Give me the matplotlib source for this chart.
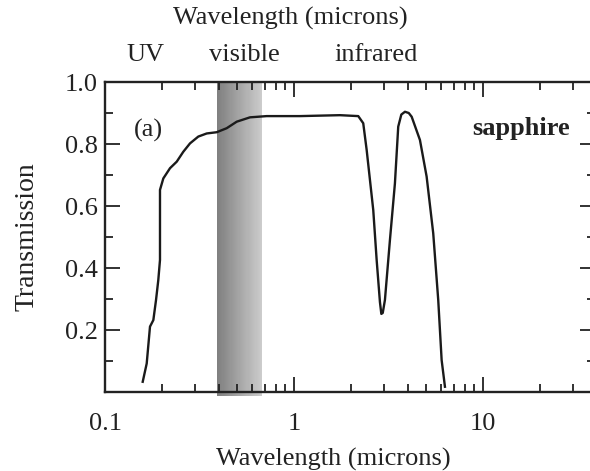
import numpy as np
import matplotlib
matplotlib.use("Agg")
import matplotlib.pyplot as plt
from matplotlib.ticker import LogLocator, MultipleLocator, FixedFormatter, FixedLocator

plt.rcParams['font.family'] = ['Liberation Serif', 'DejaVu Serif']

# transmission curve of sapphire
wavelength = [0.1583, 0.1662, 0.1730, 0.1802, 0.1862, 0.1914, 0.1954, 0.1954,
              0.2035, 0.2208, 0.2396, 0.2596, 0.2817, 0.3117, 0.3453, 0.3899,
              0.4406, 0.4977, 0.5850, 0.7173, 1.076, 1.751, 2.189, 2.326,
              2.425, 2.628, 2.739, 2.851, 2.90, 2.95, 3.030, 3.220, 3.422, 3.563,
              3.70, 3.867, 4.05, 4.197, 4.642, 5.036, 5.458, 5.801, 6.047, 6.296]
transmission = [0.033, 0.092, 0.211, 0.232, 0.297, 0.361, 0.426, 0.652,
                0.689, 0.722, 0.743, 0.775, 0.802, 0.824, 0.834, 0.838,
                0.851, 0.872, 0.886, 0.890, 0.890, 0.893, 0.890, 0.867,
                0.781, 0.587, 0.426, 0.290, 0.252, 0.255, 0.297, 0.490, 0.673, 0.856,
                0.895, 0.904, 0.900, 0.888, 0.813, 0.695, 0.512, 0.297, 0.103, 0.017]

# visible band
band_lo, band_hi = 0.39, 0.68
band_gray = (0.50, 0.80)

y_ticks = [0.2, 0.4, 0.6, 0.8, 1.0]
x_ticks = [0.1, 1, 10]
x_ticklabels = ['0.1', '1', '10']
regions = ['UV', 'visible', 'infrared']
region_x = [0.163, 0.544, 2.72]

fig = plt.figure(figsize=(5.9, 4.71), dpi=100)
ax = fig.add_axes([0.178, 0.1677, 0.8305, 0.6582])

# gradient shading for the visible range
edges = np.geomspace(band_lo, band_hi, 41)
shades = np.linspace(band_gray[0], band_gray[1], 40)
for i in range(40):
    ax.axvspan(edges[i], edges[i + 1], ymin=-0.012, ymax=1, color=str(shades[i]),
               lw=0, clip_on=False, zorder=0)

ax.plot(wavelength, transmission, color='#1a1a1a', lw=1.7, zorder=3,
        solid_joinstyle='round')

ax.set_xscale('log')
ax.set_xlim(0.1, 39.2)
ax.set_ylim(0, 1.0)

ax.xaxis.set_major_locator(FixedLocator(x_ticks))
ax.xaxis.set_major_formatter(FixedFormatter(x_ticklabels))
ax.xaxis.set_minor_locator(LogLocator(base=10, subs=np.arange(2, 10)))
ax.xaxis.set_minor_formatter(plt.NullFormatter())
ax.yaxis.set_major_locator(FixedLocator(y_ticks))
ax.yaxis.set_major_formatter(FixedFormatter([f'{v:.1f}' for v in y_ticks]))
ax.yaxis.set_minor_locator(MultipleLocator(0.1))

ax.tick_params(which='both', direction='in', top=True, right=True,
               width=1.3, labelsize=19, color='#222222', labelcolor='#222222')
ax.tick_params(axis='x', pad=15)
ax.tick_params(axis='y', pad=5)
ax.tick_params(which='major', length=10.5)
ax.tick_params(which='minor', length=5.5)
for s in ax.spines.values():
    s.set_linewidth(1.7)
    s.set_color('#222222')

ax.set_xlabel('Wavelength (microns)', fontsize=19, color='#222222', va='center')
ax.xaxis.set_label_coords(0.465, -0.219)
ax.set_ylabel('Transmission', fontsize=20, color='#222222', va='center')
ax.yaxis.set_label_coords(-0.159, 0.5)

ax.text(0.952, 1.206, 'Wavelength (microns)', transform=ax.get_xaxis_transform(),
        ha='center', va='center', fontsize=19, color='#222222')
for lab, xv in zip(regions, region_x):
    ax.text(xv, 1.087, lab, transform=ax.get_xaxis_transform(),
            ha='center', va='center', fontsize=19, color='#222222')

ax.text(0.169, 0.845, '(a)', fontsize=19, va='center', ha='center', color='#222222')
ax.text(28.8, 0.85, 'sapphire', fontsize=19, fontweight='bold', va='center',
        ha='right', color='#222222')

fig.savefig('out.png', dpi=100)
